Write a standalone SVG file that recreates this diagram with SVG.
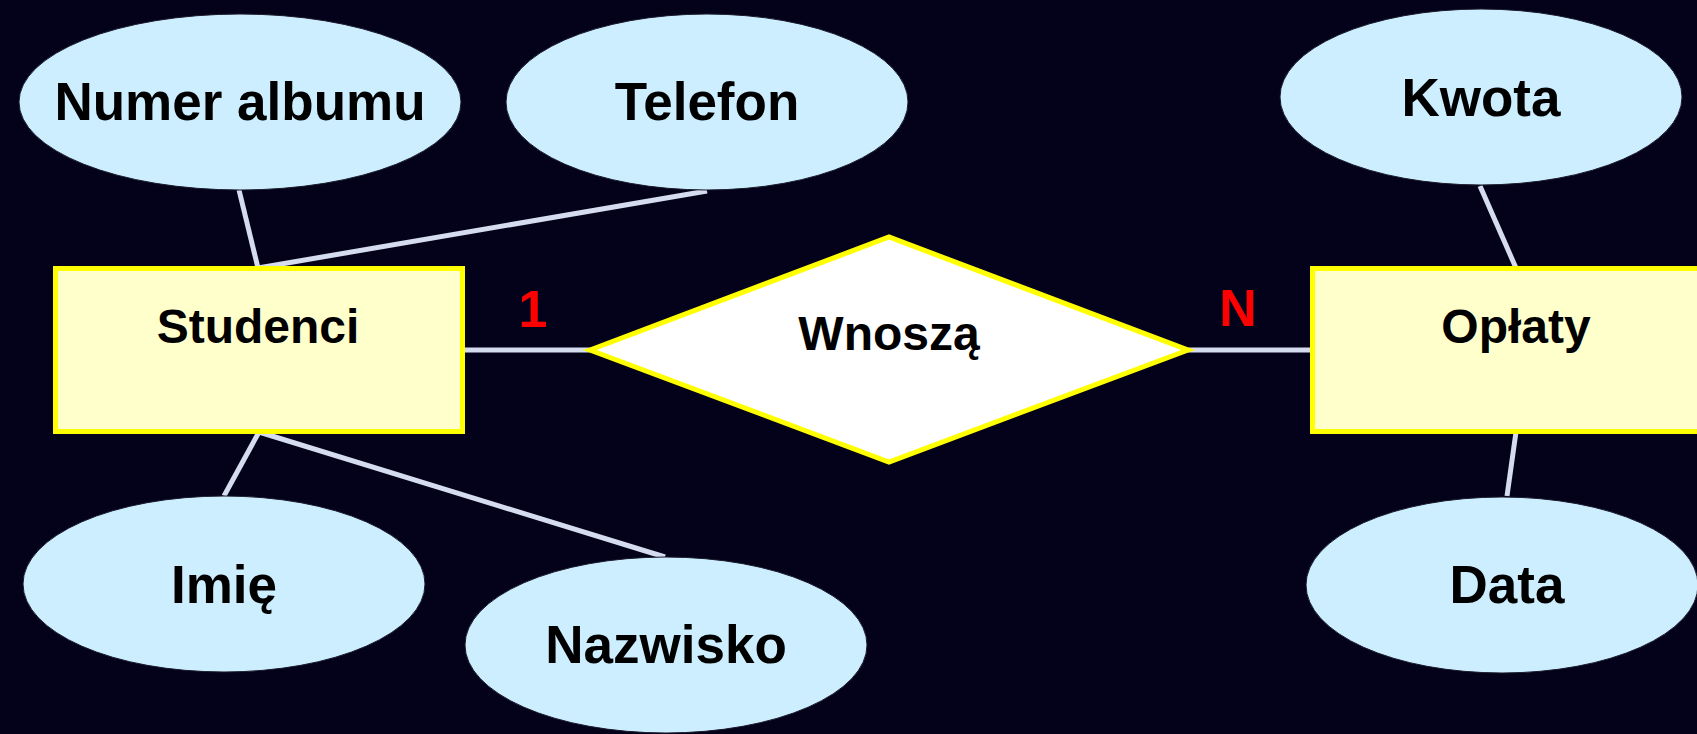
<svg xmlns="http://www.w3.org/2000/svg" width="1697" height="734" viewBox="0 0 1697 734">
<style>
.attr{fill:#cceeff;stroke:#1a1a2a;stroke-width:1}
.ent{fill:#ffffcc;stroke:#ffff00;stroke-width:5}
.rel{fill:#ffffff;stroke:#ffff00;stroke-width:5;stroke-linejoin:miter}
.lbl{font-family:"Liberation Sans",Arial,sans-serif;font-weight:bold;fill:#000;text-anchor:middle}
.a{font-size:53px}
.e{font-size:48px}
.card{font-family:"Liberation Sans",Arial,sans-serif;font-weight:bold;fill:#ff0000;text-anchor:middle;font-size:52px}
.conn line{stroke:#d6dcef;stroke-width:5}
</style>
<rect x="0" y="0" width="1697" height="734" fill="#03021a"/>
<g id="connectors" class="conn">
<line x1="239" y1="190" x2="258" y2="268"/>
<line x1="707" y1="191" x2="258" y2="268"/>
<line x1="259" y1="432" x2="224" y2="496"/>
<line x1="259" y1="432" x2="665" y2="557"/>
<line x1="465" y1="350" x2="590" y2="350"/>
<line x1="1188" y1="350" x2="1312" y2="350"/>
<line x1="1480" y1="186" x2="1516" y2="268"/>
<line x1="1516" y1="432" x2="1507" y2="496"/>
</g>
<g id="numer-albumu"><ellipse class="attr" cx="240" cy="102" rx="221" ry="88"/><text class="lbl a" x="240" y="120">Numer albumu</text></g>
<g id="telefon"><ellipse class="attr" cx="707" cy="102" rx="201" ry="88"/><text class="lbl a" x="707" y="120">Telefon</text></g>
<g id="kwota"><ellipse class="attr" cx="1481" cy="97" rx="201" ry="88"/><text class="lbl a" x="1481" y="116">Kwota</text></g>
<g id="imie"><ellipse class="attr" cx="224" cy="584" rx="201" ry="88"/><text class="lbl a" x="224" y="603">Imię</text></g>
<g id="nazwisko"><ellipse class="attr" cx="666" cy="645" rx="201" ry="88"/><text class="lbl a" x="666" y="663">Nazwisko</text></g>
<g id="data"><ellipse class="attr" cx="1502" cy="585" rx="196" ry="88"/><text class="lbl a" x="1507" y="603">Data</text></g>
<g id="studenci"><rect class="ent" x="55.5" y="268.5" width="407" height="163"/><text class="lbl e" x="258" y="343">Studenci</text></g>
<g id="oplaty"><rect class="ent" x="1312.5" y="268.5" width="407" height="163"/><text class="lbl e" x="1516" y="343">Opłaty</text></g>
<g id="wnosza"><polygon class="rel" points="590,350 889,237 1188,350 889,462"/><text class="lbl e" x="889" y="350">Wnoszą</text></g>
<g id="cardinalities"><text class="card" x="533" y="327">1</text><text class="card" x="1238" y="326">N</text></g>
</svg>
